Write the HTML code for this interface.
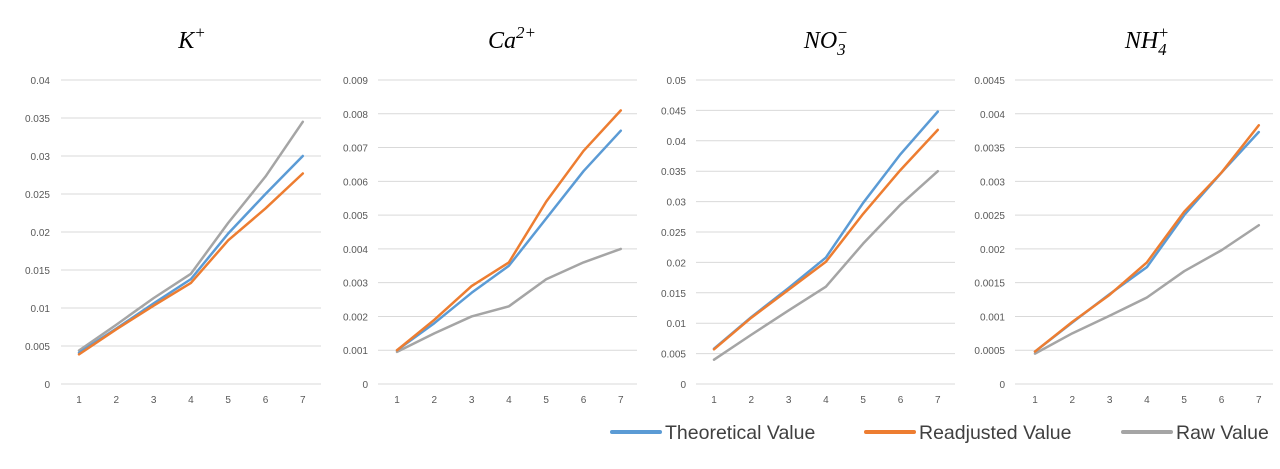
<!DOCTYPE html>
<html><head><meta charset="utf-8"><style>
body{margin:0;background:#fff;width:1280px;height:464px;overflow:hidden;font-family:"Liberation Sans",sans-serif}
</style></head><body>
<svg id="c" width="1280" height="464" xmlns="http://www.w3.org/2000/svg"></svg>
<script>
const categories=[1,2,3,4,5,6,7];
const kTheo=[0.0041,0.0073,0.0106,0.0138,0.0198,0.0250,0.0300];
const kReadj=[0.0039,0.0072,0.0103,0.0133,0.0189,0.0231,0.0277];
const kRaw=[0.0044,0.0078,0.0113,0.0145,0.0212,0.0273,0.0345];
const caTheo=[0.0010,0.0018,0.0027,0.0035,0.0049,0.0063,0.0075];
const caReadj=[0.0010,0.0019,0.0029,0.0036,0.0054,0.0069,0.0081];
const caRaw=[0.00095,0.0015,0.0020,0.0023,0.0031,0.0036,0.0040];
const noTheo=[0.0058,0.0110,0.0158,0.0208,0.0298,0.0378,0.0448];
const noReadj=[0.0057,0.0109,0.0155,0.0201,0.0280,0.0352,0.0418];
const noRaw=[0.0040,0.0081,0.0121,0.0160,0.0231,0.0295,0.0350];
const nhTheo=[0.00048,0.00091,0.00133,0.00173,0.00250,0.00313,0.00373];
const nhReadj=[0.00048,0.00092,0.00132,0.00180,0.00255,0.00313,0.00383];
const nhRaw=[0.00045,0.00075,0.00101,0.00128,0.00167,0.00198,0.00235];
const kTicks=["0","0.005","0.01","0.015","0.02","0.025","0.03","0.035","0.04"];
const caTicks=["0","0.001","0.002","0.003","0.004","0.005","0.006","0.007","0.008","0.009"];
const noTicks=["0","0.005","0.01","0.015","0.02","0.025","0.03","0.035","0.04","0.045","0.05"];
const nhTicks=["0","0.0005","0.001","0.0015","0.002","0.0025","0.003","0.0035","0.004","0.0045"];
const seriesNames=["Theoretical Value","Readjusted Value","Raw Value"];
const colors=["#5B9BD5","#ED7D31","#A5A5A5"];
const NS="http://www.w3.org/2000/svg";
const svg=document.getElementById('c');
function mk(t,a,p){const e=document.createElementNS(NS,t);for(const k in a)e.setAttribute(k,a[k]);(p||svg).appendChild(e);return e;}
const panels=[
 {name:"k",title:'K<tspan font-size="17" dy="-10">+</tspan>',ticks:kTicks,s:[kTheo,kReadj,kRaw],gx0:61,gx1:321,x1:79,lx:50,tc:192},
 {name:"ca",title:'Ca<tspan font-size="17" dy="-10">2+</tspan>',ticks:caTicks,s:[caTheo,caReadj,caRaw],gx0:378,gx1:637,x1:397,lx:368,tc:512},
 {name:"no3",title:'NO<tspan font-size="17" dy="7">3</tspan><tspan font-size="17" dx="-9" dy="-17">−</tspan>',ticks:noTicks,s:[noTheo,noReadj,noRaw],gx0:696,gx1:955,x1:714,lx:686,tc:826},
 {name:"nh4",title:'NH<tspan font-size="17" dy="7">4</tspan><tspan font-size="17" dx="-9" dy="-17">+</tspan>',ticks:nhTicks,s:[nhTheo,nhReadj,nhRaw],gx0:1015,gx1:1273,x1:1035,lx:1005,tc:1147}
];
const yTop=80,yBot=384,step=37.3;
panels.forEach(p=>{
 const g=mk('g',{});
 
 
 const t=mk('text',{x:p.tc,y:48,'text-anchor':'middle','font-family':'Liberation Serif,serif','font-style':'italic','font-size':24,fill:'#000'},g);
 t.innerHTML=p.title;
 
 
 const n=p.ticks.length-1,max=parseFloat(p.ticks[n]);
 const y=v=>yBot-(v/max)*(yBot-yTop);
 const x=i=>p.x1+i*step;
 p.ticks.forEach((tk,i)=>{
  const yy=y(parseFloat(tk));
  const l=mk('line',{x1:p.gx0,x2:p.gx1,y1:yy,y2:yy,stroke:'#d9d9d9','stroke-width':1},g);
  
  
  const tx=mk('text',{x:p.lx,y:yy+4,'text-anchor':'end','font-size':10,fill:'#595959'},g);
  tx.textContent=tk;
  
  
 });
 categories.forEach((c,i)=>{
  const tx=mk('text',{x:x(i),y:403,'text-anchor':'middle','font-size':10,fill:'#595959'},g);
  tx.textContent=c;
  
  
 });
 [2,0,1].forEach(si=>{
  const pts=p.s[si].map((v,i)=>x(i)+','+y(v)).join(' ');
  const pl=mk('polyline',{points:pts,fill:'none',stroke:colors[si],'stroke-width':2.5,'stroke-linejoin':'round','stroke-linecap':'round'},g);
  
  
 });
});
const lx=[612,866,1123];
seriesNames.forEach((nm,i)=>{
 const g=mk('g',{});
 
 
 mk('line',{x1:lx[i],x2:lx[i]+48,y1:432,y2:432,stroke:colors[i],'stroke-width':4,'stroke-linecap':'round'},g);
 const t=mk('text',{x:lx[i]+53,y:439,'font-size':19.5,fill:'#404040'},g);
 t.textContent=nm;
});
</script>
</body></html>
